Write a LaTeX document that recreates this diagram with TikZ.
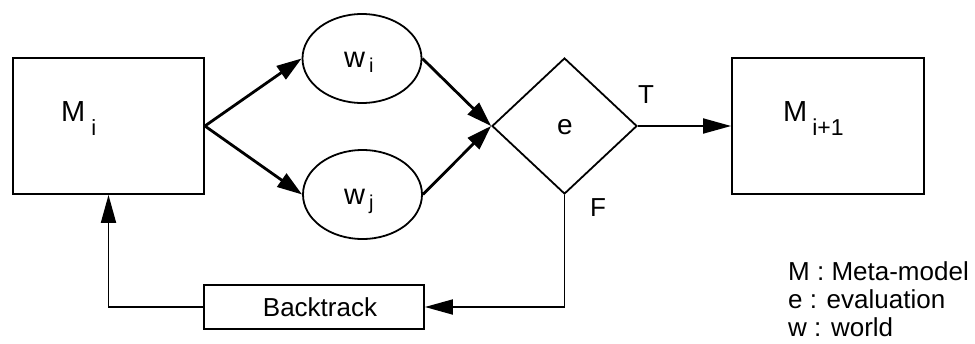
\documentclass[tikz,border=0pt]{standalone}
\usepackage{fontspec}
\setmainfont{Liberation Sans}
\usetikzlibrary{arrows.meta,shapes.geometric}
\begin{document}
\begin{tikzpicture}[x=1pt,y=-1pt,
  line join=miter,
  box/.style={draw,line width=1.8pt,inner sep=0pt},
  world/.style={draw,ellipse,line width=1.8pt,inner sep=0pt,minimum width=119pt,minimum height=89pt},
  test/.style={draw,diamond,line width=1.8pt,inner sep=0pt,minimum width=145pt,minimum height=136pt},
  flow/.style={line width=1.8pt,-{Triangle[length=28pt,width=15pt]}},
  split/.style={line width=2.8pt,-{Triangle[length=25pt,width=16pt]}},
  lbl/.style={inner sep=0pt,font=\fontsize{26}{29}\selectfont},
  big/.style={inner sep=0pt,anchor=base west,font=\fontsize{29}{33}\selectfont}
]
\useasboundingbox (0,0) rectangle (975,343);

% model boxes
\node[box,minimum width=191pt,minimum height=136pt] (mi) at (108.5,126) {};
\node[box,minimum width=192pt,minimum height=136pt] (mn) at (828,126) {};
\node[big] (mit) at (61,121) {M\hspace{6pt}\raisebox{-14pt}{\fontsize{22}{24}\selectfont i}};
\node[big] (mnt) at (783,121) {M\hspace{5pt}\raisebox{-14pt}{\fontsize{23}{25}\selectfont i+1}};

% worlds
\node[world] (wi) at (362,58.5) {};
\node[world] (wj) at (362.5,194.5) {};
\node[big] (wit) at (344,67) {w\hspace{4pt}\raisebox{-5pt}{\fontsize{20}{22}\selectfont i}};
\node[big] (wjt) at (344,204) {w\hspace{4pt}\raisebox{-5pt}{\fontsize{20}{22}\selectfont j}};

% evaluation
\node[test] (e) at (564.5,126) {};
\node[inner sep=0pt,font=\fontsize{28}{32}\selectfont,anchor=base] (et) at (565,134) {e};
\node[lbl,anchor=base] (tl) at (646,103) {T};
\node[lbl,anchor=base] (fl) at (598,216) {F};

% backtrack
\node[box,minimum width=220pt,minimum height=44pt] (bt) at (314,307) {};
\node[lbl,anchor=base] (btt) at (320,316) {Backtrack};

% connectors
\draw[split] (mi.east) -- (wi.west);
\draw[split] (mi.east) -- (wj.west);
\draw[split] (wi.east) -- (e.west);
\draw[split] (wj.east) -- (e.west);
\draw[flow] (e.east) -- (mn.west);
\draw[flow] (e.south) |- (bt.east);
\draw[flow] (bt.west) -| (mi.south);

% legend
\node[lbl,anchor=base west] (leg1) at (788,280) {M : Meta-model};
\node[lbl,anchor=base west] (leg2) at (788,308) {e : evaluation};
\node[lbl,anchor=base west] (leg3) at (788,336) {w : world};
\end{tikzpicture}
\end{document}
